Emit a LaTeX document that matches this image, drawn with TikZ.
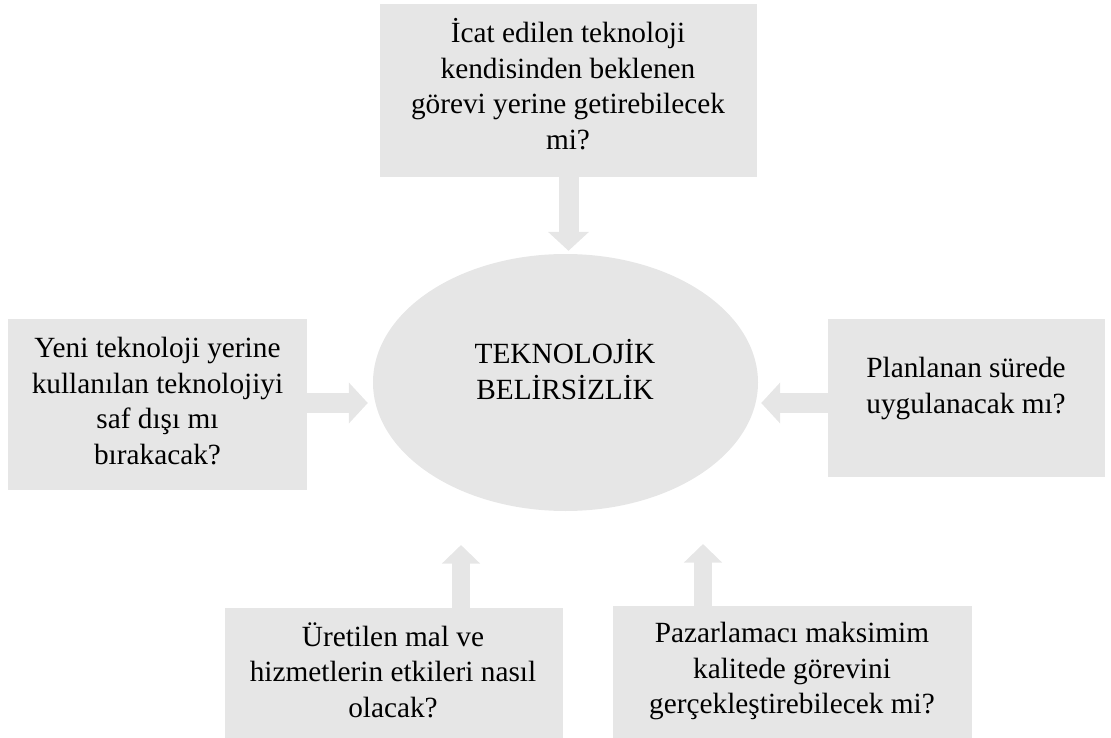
\documentclass[tikz,border=0pt]{standalone}
\usepackage{fontspec}
\setmainfont{Liberation Serif}
\usetikzlibrary{arrows.meta,shapes.geometric,calc}
\definecolor{boxgray}{RGB}{230,230,230}
\begin{document}
\begin{tikzpicture}[x=1pt,y=-1pt,
  box/.style={fill=boxgray,draw=none,inner sep=0pt},
  oval/.style={ellipse,fill=boxgray,draw=none,inner sep=0pt},
  txt/.style={align=center,inner sep=0pt,font=\fontsize{29.3}{35.5}\selectfont,
    execute at begin node=\strut,execute at end node=\strut},
  arr/.style={draw=boxgray,line width=20pt,-{Triangle[width=40pt,length=19pt]}},
  arrs/.style={draw=boxgray,line width=17.5pt,-{Triangle[width=37pt,length=18.5pt]}}]
\useasboundingbox (0,0) rectangle (1111,738);
% shapes
\node[box,minimum width=377pt,minimum height=173pt] (top) at (568.5,90.5) {};
\node[box,minimum width=299pt,minimum height=171pt] (left) at (157.5,404.5) {};
\node[box,minimum width=277pt,minimum height=158pt] (right) at (966.5,398) {};
\node[box,minimum width=338pt,minimum height=130pt] (bl) at (394,673) {};
\node[box,minimum width=359pt,minimum height=132pt] (br) at (792.5,672) {};
\node[oval,minimum width=385pt,minimum height=257pt] (ell) at (565.5,382.5) {};
% connectors
\coordinate (blt) at (461,545);
\coordinate (brt) at (703,544);
\draw[arr] (top.south) -- ($(top.south |- ell.north)+(0,-3)$);
\draw[arr] ([yshift=1.5pt]left.east) -- ($(left.east -| ell.west)+(-5,-1.5)$);
\draw[arr] ([yshift=-5pt]right.west) -- ($(right.west -| ell.east)+(3,5)$);
\draw[arrs] ($(bl.north)+(67,0)$) -- (blt);
\draw[arrs] ($(br.north)+(-89.5,0)$) -- (brt);
% texts
\node[txt] (ttop) at (568,89.15) {İcat edilen teknoloji\\kendisinden beklenen\\görevi yerine getirebilecek\\mi?};
\node[txt] (tleft) at (157.5,406.15) {Yeni teknoloji yerine\\kullanılan teknolojiyi\\saf dışı mı\\bırakacak?};
\node[txt] (tright) at (966,390.65) {Planlanan sürede\\uygulanacak mı?};
\node[txt] (tbl) at (393,675.4) {Üretilen mal ve\\hizmetlerin etkileri nasıl\\olacak?};
\node[txt] (tbr) at (792,673.4) {Pazarlamacı maksimim\\kalitede görevini\\gerçekleştirebilecek mi?};
\node[txt] (tell) at (565,374.65) {TEKNOLOJİK\\BELİRSİZLİK};
\end{tikzpicture}
\end{document}
